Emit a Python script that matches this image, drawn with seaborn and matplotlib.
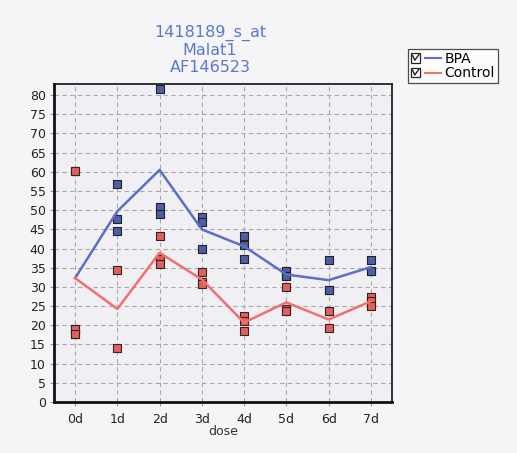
import numpy as np
import pandas as pd
import matplotlib
matplotlib.use("Agg")
import matplotlib.pyplot as plt
import seaborn as sns
from matplotlib.lines import Line2D
from matplotlib.patches import Rectangle
from matplotlib.legend_handler import HandlerBase

days = ["0d", "1d", "2d", "3d", "4d", "5d", "6d", "7d"]
bpa_values = [
    [60.2, 19.0, 17.7],
    [56.9, 47.6, 44.7],
    [81.6, 50.8, 49.1],
    [48.2, 46.9, 39.9],
    [43.4, 41.0, 37.3],
    [34.1, 32.8, 32.8],
    [36.9, 29.2, 29.2],
    [37.1, 34.2, 34.2],
]
control_values = [
    [60.2, 19.0, 17.7],
    [34.5, 14.0],
    [43.4, 37.3, 36.0],
    [33.8, 31.2, 30.8],
    [22.3, 21.2, 18.6],
    [29.9, 24.2, 23.8],
    [23.7, 19.3],
    [27.4, 26.4, 25.0],
]
title_lines = ["1418189_s_at", "Malat1", "AF146523"]
legend_labels = ["BPA", "Control"]
y_ticks = list(range(0, 81, 5))

rows = []
for d, vals in zip(days, bpa_values):
    for v in vals:
        rows.append({"dose": d, "value": v, "group": "BPA"})
for d, vals in zip(days, control_values):
    for v in vals:
        rows.append({"dose": d, "value": v, "group": "Control"})
df = pd.DataFrame(rows)

blue_line = "#5b6fc4"
red_line = "#f2706c"
blue_pt = "#4a5fa6"
red_pt = "#e0605c"

fig = plt.figure(figsize=(5.17, 4.53), dpi=100, facecolor="#f5f4f6")
ax = fig.add_axes([0.1044, 0.1126, 0.6538, 0.702])
ax.set_facecolor("#f0eff4")

bpa = df[df.group == "BPA"]
ctl = df[df.group == "Control"]

sns.scatterplot(data=bpa, x="dose", y="value", marker="s", s=40, color=blue_pt,
                edgecolor="#222222", linewidth=0.8, ax=ax, zorder=3, legend=False)
sns.scatterplot(data=ctl, x="dose", y="value", marker="s", s=40, color=red_pt,
                edgecolor="#3a2020", linewidth=0.8, ax=ax, zorder=3, legend=False)
sns.lineplot(data=bpa, x="dose", y="value", estimator="mean", errorbar=None,
             color=blue_line, linewidth=1.8, ax=ax, zorder=4, legend=False)
sns.lineplot(data=ctl, x="dose", y="value", estimator="mean", errorbar=None,
             color=red_line, linewidth=1.8, ax=ax, zorder=4, legend=False)

ax.set_xlim(-0.5, 7.5)
ax.set_ylim(0, 82.9)
ax.set_yticks(y_ticks)
ax.set_xticks(range(len(days)))
ax.set_xticklabels(days)
ax.tick_params(axis="both", labelsize=9, length=3, width=0.8, color="#999999",
               pad=3, labelcolor="#222222")
ax.tick_params(axis="x", pad=5)
ax.set_xlabel("dose", fontsize=9, labelpad=-1, color="#333333")
ax.set_ylabel("")
ax.grid(True, color="#a9a9a9", linestyle=(0, (4, 3)), linewidth=0.8)
ax.set_axisbelow(True)
for side, lw in [("left", 2.0), ("bottom", 2.0), ("right", 1.2), ("top", 1.2)]:
    ax.spines[side].set_visible(True)
    ax.spines[side].set_color("#111111")
    ax.spines[side].set_linewidth(lw)

fig.text(0.406, 0.945, "\n".join(title_lines), ha="center", va="top",
         fontsize=11.5, color="#5a78cc", linespacing=1.15)


class CheckLineHandler(HandlerBase):
    def create_artists(self, legend, orig_handle, xdescent, ydescent,
                       width, height, fontsize, trans):
        s = height * 1.0
        y0 = (height - s) / 2 - ydescent
        x0 = -xdescent
        box = Rectangle((x0, y0), s, s, facecolor="white", edgecolor="#222222",
                        linewidth=0.9, transform=trans)
        check = Line2D([x0 + 0.2 * s, x0 + 0.42 * s, x0 + 0.85 * s],
                       [y0 + 0.75 * s, y0 + 0.25 * s, y0 + 0.85 * s],
                       color="#222222", lw=1.0, transform=trans)
        line = Line2D([x0 + s + 0.45 * s, x0 + width],
                      [height / 2 - ydescent] * 2,
                      color=orig_handle.get_color(), lw=1.5, transform=trans)
        return [box, check, line]


handles = [Line2D([], [], color=blue_line, lw=1.5),
           Line2D([], [], color=red_line, lw=1.5)]
leg = fig.legend(handles, legend_labels, loc="upper left",
                 bbox_to_anchor=(0.789, 0.892), fontsize=10, frameon=True,
                 fancybox=False, edgecolor="#222222", handlelength=2.2,
                 handletextpad=0.25, borderpad=0.2, labelspacing=0.05,
                 borderaxespad=0,
                 handler_map={Line2D: CheckLineHandler()})
leg.get_frame().set_facecolor("white")
leg.get_frame().set_linewidth(0.9)

fig.savefig("out.png", dpi=100, facecolor=fig.get_facecolor())
